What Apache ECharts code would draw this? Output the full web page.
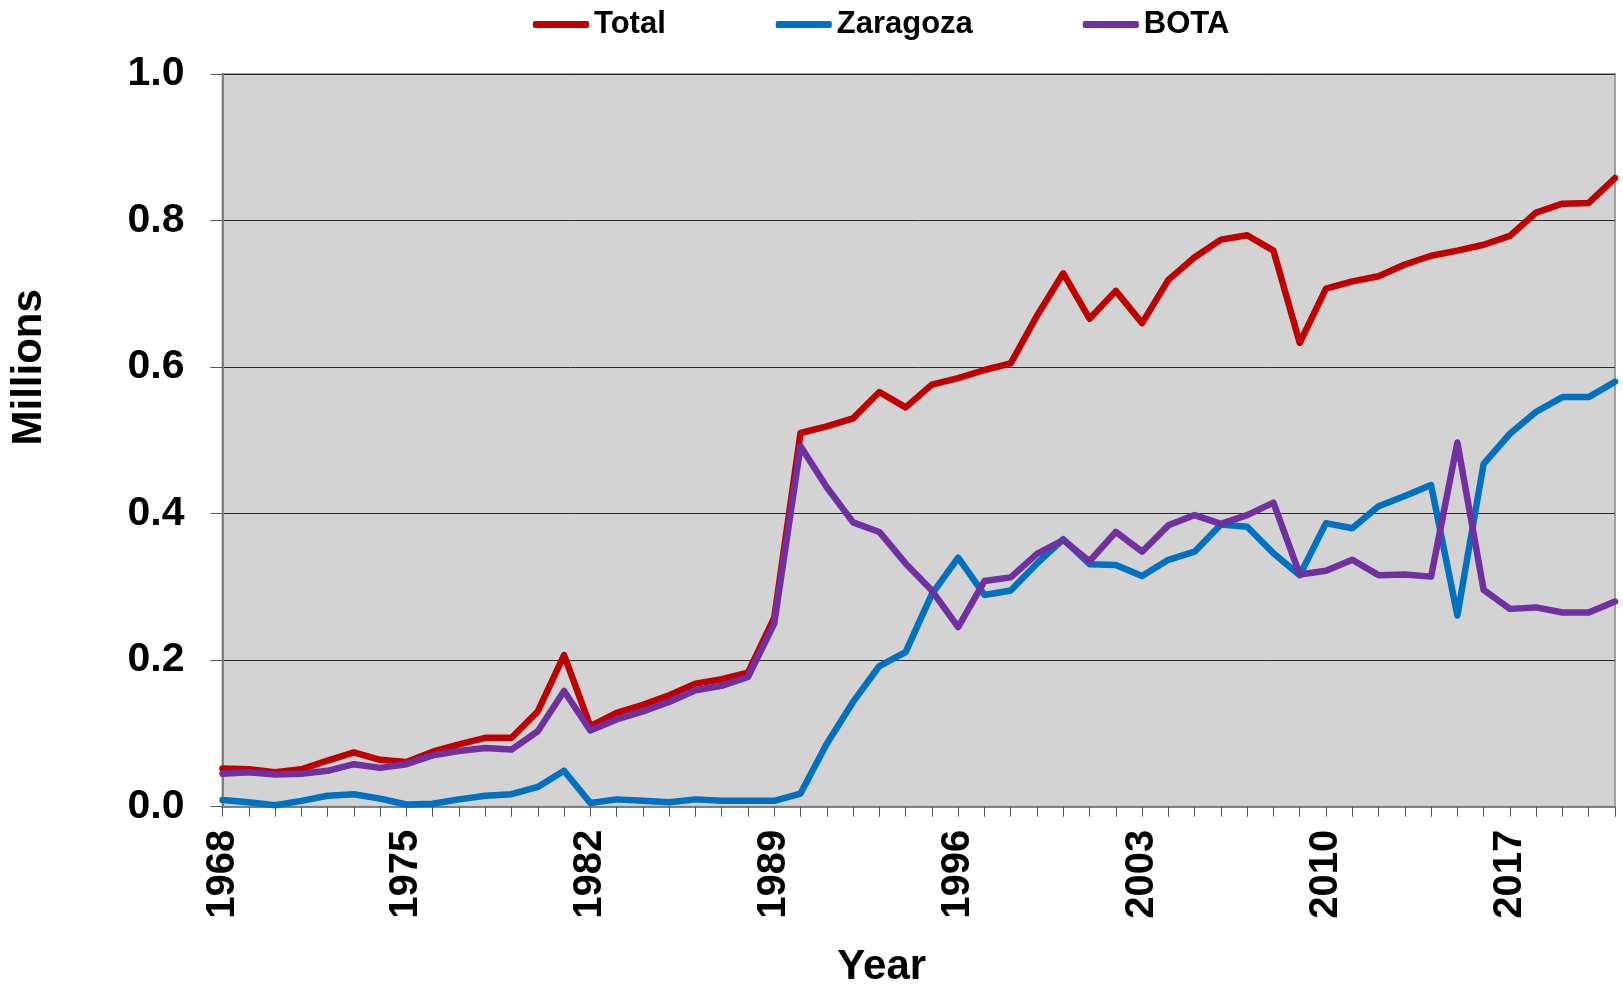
<!DOCTYPE html>
<html>
<head>
<meta charset="utf-8">
<script src="https://cdn.jsdelivr.net/npm/echarts@6/dist/echarts.min.js"></script>
<style>
html,body{margin:0;padding:0;background:#fff;}
#chart{width:1623px;height:987px;}
</style>
</head>
<body>
<div id="chart"></div>
<script>
const years = ['1968','1969','1970','1971','1972','1973','1974','1975','1976','1977','1978','1979','1980','1981',
  '1982','1983','1984','1985','1986','1987','1988','1989','1990','1991','1992','1993','1994',
  '1995','1996','1997','1998','1999','2000','2001','2002','2003','2004','2005','2006',
  '2007','2008','2009','2010','2011','2012','2013','2014','2015','2016','2017','2018','2019','2020','2021'];

const total = [0.052,0.051,0.047,0.051,0.063,0.074,0.064,0.061,0.075,0.085,0.094,0.094,0.130,0.207,
  0.110,0.128,0.139,0.152,0.168,0.174,0.183,0.258,0.510,0.519,0.530,0.566,0.545,
  0.576,0.585,0.596,0.605,0.670,0.728,0.666,0.704,0.660,0.719,0.750,0.774,
  0.780,0.759,0.633,0.707,0.717,0.724,0.740,0.752,0.759,0.767,0.779,0.811,0.823,0.824,0.858];

const zaragoza = [0.009,0.006,0.002,0.008,0.015,0.017,0.011,0.003,0.004,0.010,0.015,0.017,0.027,0.049,
  0.005,0.010,0.008,0.006,0.010,0.008,0.008,0.008,0.018,0.086,0.143,0.192,0.211,
  0.290,0.340,0.289,0.295,0.332,0.365,0.331,0.330,0.315,0.337,0.348,0.385,
  0.382,0.346,0.316,0.387,0.380,0.410,0.424,0.439,0.261,0.468,0.509,0.539,0.559,0.559,0.580];

const bota = [0.045,0.047,0.044,0.045,0.049,0.058,0.053,0.058,0.070,0.076,0.080,0.078,0.103,0.158,
  0.104,0.119,0.130,0.143,0.159,0.165,0.177,0.250,0.492,0.436,0.388,0.375,0.332,
  0.295,0.245,0.308,0.313,0.345,0.364,0.335,0.375,0.348,0.384,0.398,0.386,
  0.398,0.415,0.317,0.322,0.337,0.316,0.317,0.314,0.497,0.296,0.270,0.272,0.265,0.265,0.280];

const seriesNames = ['Total','Zaragoza','BOTA'];
const seriesColors = ['#c00000','#0070c0','#7030a0'];
const yTicks = [0.0,0.2,0.4,0.6,0.8,1.0];

const FONT = "'Liberation Sans', Arial, sans-serif";
const chart = echarts.init(document.getElementById('chart'), null, {renderer:'canvas'});

const dataSets = [total, zaragoza, bota];

chart.setOption({
  animation: false,
  backgroundColor: '#ffffff',
  textStyle: {fontFamily: FONT},
  legend: {
    data: seriesNames,
    left: 528,
    top: 4,
    itemGap: 110,
    itemWidth: 56,
    itemHeight: 7,
    icon: 'roundRect',
    textStyle: {fontFamily: FONT, fontSize: 31, fontWeight: 'bold', color: '#000'}
  },
  grid: {
    left: 222.5,
    right: 8,
    top: 74,
    bottom: 180.3,
    containLabel: false,
    outerBoundsMode: 'none',
    show: true,
    backgroundColor: '#d3d3d3',
    borderColor: '#a0a0a0',
    borderWidth: 2
  },
  xAxis: {
    type: 'category',
    data: years,
    boundaryGap: false,
    name: 'Year',
    nameLocation: 'middle',
    nameGap: 140,
    nameTextStyle: {fontFamily: FONT, fontSize: 42, fontWeight: 'bold', color: '#000', padding: [0,74,0,0]},
    axisLine: {show: true, lineStyle: {color: '#7f7f7f', width: 2}},
    axisTick: {show: true, interval: 0, length: 10, lineStyle: {color: '#555', width: 1}},
    axisLabel: {
      interval: 6,
      rotate: 90,
      margin: 23,
      fontFamily: FONT,
      fontSize: 40,
      fontWeight: 'bold',
      color: '#000',
      hideOverlap: false
    },
    splitLine: {show: false}
  },
  yAxis: {
    type: 'value',
    min: 0,
    max: 1,
    interval: 0.2,
    name: 'Millions',
    nameLocation: 'middle',
    nameGap: 172,
    nameTextStyle: {fontFamily: FONT, fontSize: 42, fontWeight: 'bold', color: '#000', padding: [0,0,0,146]},
    axisLine: {show: true, lineStyle: {color: '#7f7f7f', width: 2}},
    axisTick: {show: true, inside: false, length: 12, lineStyle: {color: '#555', width: 1}},
    axisLabel: {
      margin: 38,
      fontFamily: FONT,
      fontSize: 41,
      fontWeight: 'bold',
      color: '#000',
      formatter: function (v) {
        const t = yTicks.find(function (k) { return Math.abs(k - v) < 1e-9; });
        return (t !== undefined ? t : v).toFixed(1);
      }
    },
    splitLine: {show: true, lineStyle: {color: '#2a2a2a', width: 1}}
  },
  series: seriesNames.map(function (name, i) {
    return {
      name: name,
      type: 'line',
      data: dataSets[i],
      symbol: 'none',
      showSymbol: false,
      smooth: false,
      color: seriesColors[i],
      lineStyle: {color: seriesColors[i], width: 6.5, join: 'round', cap: 'round'},
      itemStyle: {color: seriesColors[i]},
      emphasis: {disabled: true},
      z: 2 + i
    };
  })
});
</script>
</body>
</html>
